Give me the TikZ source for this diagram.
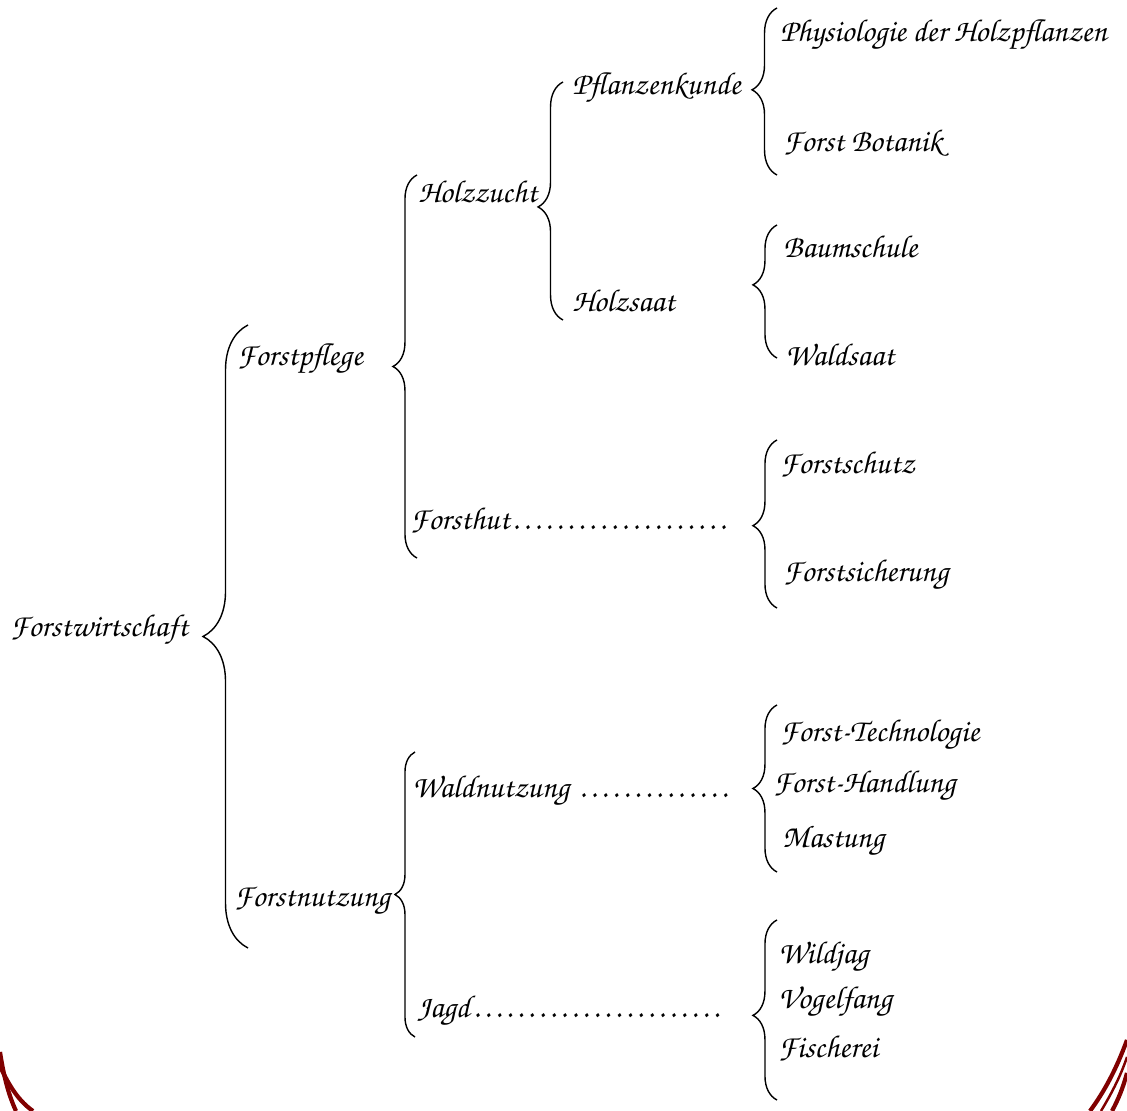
\documentclass[tikz,border=0pt]{standalone}
\usepackage[T1]{fontenc}
\usetikzlibrary{decorations.pathreplacing}
\newcommand\zc{\fontfamily{pzc}\fontseries{mb}\fontshape{it}\fontsize{18}{21}\selectfont}
\newcommand\leaderdots{\cleaders\hbox to 6.2pt{\hss.\hss}\hfill}
\definecolor{rimred}{RGB}{128,0,0}
\begin{document}
\begin{tikzpicture}
	[	x=0.02cm,y=-0.02cm,
		lbl/.style={anchor=base west,inner sep=0pt,font=\zc},
		curly/.style 2 args={decorate,decoration={brace,amplitude=#1,aspect=#2},line width=0.8pt},
		rim/.style={draw=rimred,line width=2.4pt}
	]
	\useasboundingbox (0,0) rectangle (1127,1111);

	% labels, left to right
	\node[lbl] (root) at (10,637){Forstwirtschaft};
	\node[lbl] (pflege) at (237,366){Forstpflege};
	\node[lbl] (nutzung) at (234,906){Forstnutzung};
	\node[lbl] (zucht) at (418,203){Holzzucht};
	\node[lbl] (hut) at (410,530){\makebox[6.36cm][l]{Forsthut\leaderdots}};
	\node[lbl] (wald) at (412,798){\makebox[6.36cm][l]{Waldnutzung \leaderdots}};
	\node[lbl] (jagd) at (417,1017){\makebox[6.1cm][l]{Jagd\leaderdots}};
	\node[lbl] (pflanz) at (572,95){Pflanzenkunde};
	\node[lbl] (saat) at (572,312){Holzsaat};
	\node[lbl] (physio) at (780,42){Physiologie der Holzpflanzen};
	\node[lbl] (botanik) at (783,152){Forst Botanik};
	\node[lbl] (baum) at (783,258){Baumschule};
	\node[lbl] (wsaat) at (785,366){Waldsaat};
	\node[lbl] (schutz) at (780,474){Forstschutz};
	\node[lbl] (sicher) at (783,582){Forstsicherung};
	\node[lbl] (tech) at (780,742){Forst-Technologie};
	\node[lbl] (handl) at (773,792){Forst-Handlung};
	\node[lbl] (mast) at (782,847){Mastung};
	\node[lbl] (wild) at (778,963){Wildjag};
	\node[lbl] (vogel) at (778,1008){Vogelfang};
	\node[lbl] (fisch) at (778,1057){Fischerei};

	% brace ends
	\coordinate (root-t) at (248,325); \coordinate (root-b) at (248,948);
	\coordinate (pflege-t) at (417,175); \coordinate (pflege-b) at (417,558);
	\coordinate (nutzung-t) at (415,752); \coordinate (nutzung-b) at (415,1037);
	\coordinate (zucht-t) at (563,82); \coordinate (zucht-b) at (563,320);
	\coordinate (pflanz-t) at (777,8); \coordinate (pflanz-b) at (777,175);
	\coordinate (saat-t) at (777,225); \coordinate (saat-b) at (777,358);
	\coordinate (hut-t) at (777,440); \coordinate (hut-b) at (777,608);
	\coordinate (wald-t) at (777,705); \coordinate (wald-b) at (777,872);
	\coordinate (jagd-t) at (777,920); \coordinate (jagd-b) at (777,1100);

	\draw[curly={25.6pt}{0.5}] (root-b) -- (root-t);
	\draw[curly={13.7pt}{0.5}] (pflege-b) -- (pflege-t);
	\draw[curly={11.4pt}{0.5}] (nutzung-b) -- (nutzung-t);
	\draw[curly={14.2pt}{0.475}] (zucht-b) -- (zucht-t);
	\draw[curly={14.2pt}{0.51}] (pflanz-b) -- (pflanz-t);
	\draw[curly={13.7pt}{0.55}] (saat-b) -- (saat-t);
	\draw[curly={13.7pt}{0.49}] (hut-b) -- (hut-t);
	\draw[curly={13.7pt}{0.5}] (wald-b) -- (wald-t);
	\draw[curly={13.7pt}{0.47}] (jagd-b) -- (jagd-t);

	% page border corners
	\draw[rim] (0,1052) .. controls (4,1078) and (9,1096) .. (16,1111);
	\draw[rim] (0,1066) .. controls (10,1088) and (20,1102) .. (33,1111);
	\draw[rim] (1127,1040) .. controls (1116,1070) and (1104,1092) .. (1090,1111);
	\draw[rim,line width=1.4pt] (1127,1057) .. controls (1120,1078) and (1110,1096) .. (1101,1111);
	\draw[rim] (1127,1073) .. controls (1123,1088) and (1118,1100) .. (1112,1111);
\end{tikzpicture}
\end{document}
